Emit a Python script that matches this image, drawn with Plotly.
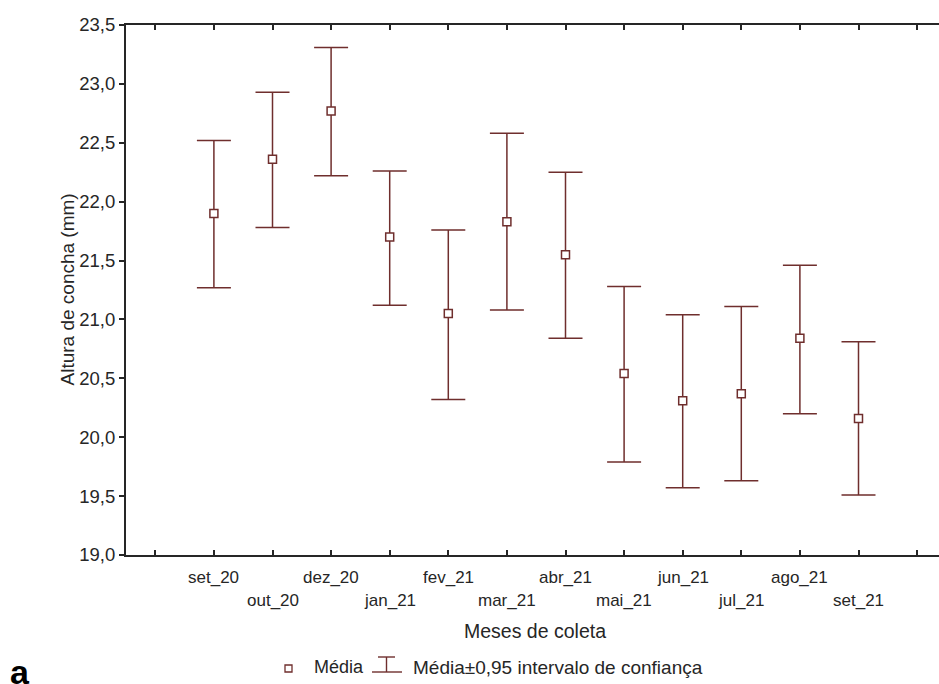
import plotly.graph_objects as go

# Monthly means of shell height with 95% confidence limits
months = ["set_20", "out_20", "dez_20", "jan_21", "fev_21", "mar_21",
          "abr_21", "mai_21", "jun_21", "jul_21", "ago_21", "set_21"]
mean_mm = [21.90, 22.36, 22.77, 21.70, 21.05, 21.83,
           21.55, 20.54, 20.31, 20.37, 20.84, 20.16]
upper_mm = [22.52, 22.93, 23.31, 22.26, 21.76, 22.58,
            22.25, 21.28, 21.04, 21.11, 21.46, 20.81]
lower_mm = [21.27, 21.78, 22.22, 21.12, 20.32, 21.08,
            20.84, 19.79, 19.57, 19.63, 20.20, 19.51]
y_ticks = [19.0, 19.5, 20.0, 20.5, 21.0, 21.5, 22.0, 22.5, 23.0, 23.5]

W, H = 939, 684
ML, MR, MT, MB = 126, 0, 25, 129
PW, PH = W - ML - MR, H - MT - MB

RED = "#6f2e2d"
INK = "#262626"
FONT = "Liberation Sans, Arial, sans-serif"

def px(xp):
    return (xp - ML) / PW

def py(yp):
    return (H - MB - yp) / PH

idx = list(range(len(months)))
err_plus = [u - m for u, m in zip(upper_mm, mean_mm)]
err_minus = [m - l for m, l in zip(mean_mm, lower_mm)]

fig = go.Figure()
fig.add_trace(go.Scatter(
    x=idx, y=mean_mm, mode="markers",
    marker=dict(symbol="square", size=8, color="white",
                line=dict(color=RED, width=1.5)),
    error_y=dict(type="data", symmetric=False, array=err_plus,
                 arrayminus=err_minus, color=RED, thickness=1.5, width=17),
    showlegend=False, hoverinfo="skip",
))

annotations = []
# staggered month labels below the axis
for i, m in enumerate(months):
    annotations.append(dict(
        x=i, y=0, xref="x", yref="paper", text=m, showarrow=False,
        yanchor="middle", yshift=-22 if i % 2 == 0 else -45,
        font=dict(family=FONT, size=17, color=INK)))

annotations += [
    dict(x=px(535), y=py(631), xref="paper", yref="paper",
         text="Meses de coleta", showarrow=False, yanchor="middle",
         font=dict(family=FONT, size=19.5, color=INK)),
    dict(x=px(54), y=py(290), xref="paper", yref="paper",
         text="Altura de concha (mm)", textangle=-90, showarrow=False,
         font=dict(family=FONT, size=19, color=INK)),
    dict(x=px(312), y=py(667), xref="paper", yref="paper", text="Média",
         showarrow=False, xanchor="left", yanchor="middle",
         font=dict(family=FONT, size=18, color=INK)),
    dict(x=px(411), y=py(667), xref="paper", yref="paper",
         text="Média±0,95 intervalo de confiança",
         showarrow=False, xanchor="left", yanchor="middle",
         font=dict(family=FONT, size=19, color=INK)),
    dict(x=px(8), y=py(671.5), xref="paper", yref="paper", text="<b>a</b>",
         showarrow=False, xanchor="left", yanchor="middle",
         font=dict(family=FONT, size=34, color="black")),
]

shapes = [
    # legend: mean marker
    dict(type="rect", xref="paper", yref="paper",
         x0=px(285), x1=px(292), y0=py(665), y1=py(672),
         line=dict(color=RED, width=1.3), fillcolor="white"),
    # legend: confidence-interval glyph
    dict(type="line", xref="paper", yref="paper",
         x0=px(378), x1=px(395), y0=py(657), y1=py(657),
         line=dict(color=RED, width=1.4)),
    dict(type="line", xref="paper", yref="paper",
         x0=px(386.5), x1=px(386.5), y0=py(657), y1=py(672),
         line=dict(color=RED, width=1.4)),
    dict(type="line", xref="paper", yref="paper",
         x0=px(372), x1=px(402), y0=py(672), y1=py(672),
         line=dict(color=RED, width=1.4)),
]

fig.update_layout(
    width=W, height=H,
    margin=dict(l=ML, r=MR, t=MT, b=MB, pad=0),
    paper_bgcolor="white", plot_bgcolor="white",
    separators=",.",
    font=dict(family=FONT, size=18, color=INK),
    annotations=annotations, shapes=shapes,
    xaxis=dict(
        range=[-1.5, -1.5 + PW / 58.6],
        tickmode="array", tickvals=list(range(-1, 13)),
        showticklabels=False, ticks="inside", ticklen=5, tickwidth=1.5,
        tickcolor=INK, showline=True, linecolor=INK, linewidth=2,
        mirror="ticks", showgrid=False, zeroline=False, fixedrange=True,
    ),
    yaxis=dict(
        range=[19.0, 23.5], tickmode="array", tickvals=y_ticks,
        tickformat=".1f", ticks="outside", ticklen=5, tickwidth=1.5,
        tickcolor=INK, showline=True, linecolor=INK, linewidth=2,
        showgrid=False, zeroline=False,
        tickfont=dict(family=FONT, size=18.5, color=INK),
    ),
)

fig.write_html("out.html")
